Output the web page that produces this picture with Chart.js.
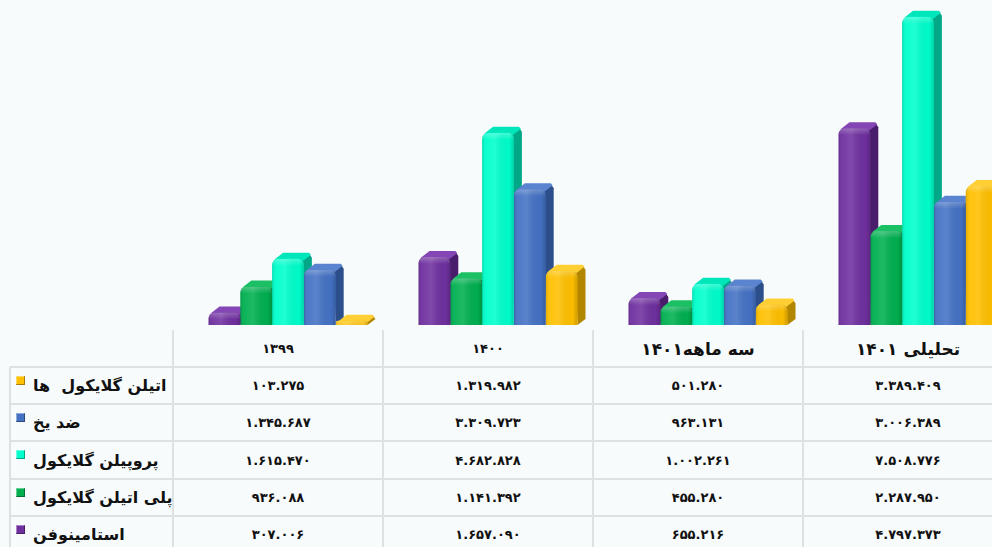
<!DOCTYPE html>
<html lang="fa">
<head>
<meta charset="UTF-8" />
<title>نمودار تولید</title>
<script src="https://cdn.jsdelivr.net/npm/chart.js"></script>
<style>
  html, body {
    margin: 0;
    padding: 0;
    width: 992px;
    height: 547px;
    overflow: hidden;
    background: #f8fbfc;
    font-family: "DejaVu Sans", sans-serif;
  }
  #wrap { position: relative; width: 992px; height: 547px; }
  #chartCanvas { position: absolute; left: 183px; top: 0; }
  .line { position: absolute; background: #dde1e3; }
  .cell {
    position: absolute;
    display: flex;
    align-items: center;
    justify-content: center;
    font-weight: bold;
    color: #111;
    white-space: pre;
  }
  .lbl { justify-content: flex-start; font-size: 16px; }
  .key {
    display: inline-block;
    width: 9px;
    height: 9px;
    margin-right: 8px;
    align-self: flex-start;
    margin-top: 9px;
    box-shadow: inset -1px -1px 0 rgba(0,0,0,0.35), inset 1px 1px 0 rgba(255,255,255,0.4);
  }
</style>
</head>
<body>
<div id="wrap">
  <canvas id="chartCanvas" width="840" height="325"></canvas>
</div>

<script>
// داده ها
const categories = ["۱۳۹۹", "۱۴۰۰", "سه ماهه۱۴۰۱", "تحلیلی ۱۴۰۱"];
const seriesNames = ["استامینوفن", "پلی اتیلن گلایکول", "پروپیلن گلایکول", "ضد یخ", "اتیلن گلایکول  ها"];
const acetaminophen = [307006, 1657090, 655216, 4797373];
const polyEthyleneGlycol = [936088, 1141392, 455280, 2287950];
const propyleneGlycol = [1615470, 4682828, 1002261, 7508776];
const antifreeze = [1345687, 3309723, 963131, 3006389];
const ethyleneGlycols = [103275, 1319982, 501280, 3389409];

const seriesValues = [acetaminophen, polyEthyleneGlycol, propyleneGlycol, antifreeze, ethyleneGlycols];
const colors = ["#7030a0", "#00b050", "#00ffcc", "#4472c4", "#ffc000"];
const sideColors = ["#4a1d6c", "#00783a", "#00a888", "#2c4f8c", "#b38600"];
const capColors = ["#8446b4", "#1cc064", "#00e6bb", "#5a84d0", "#ffcf33"];

function toFa(n) {
  const s = String(n).replace(/\B(?=(\d{3})+(?!\d))/g, ".");
  return s.replace(/\d/g, d => "۰۱۲۳۴۵۶۷۸۹"[d]);
}

// افکت سه بعدی
const DX = 8, DY = 6;
const threeD = {
  id: "threeD",
  beforeDatasetsDraw(chart) {
    const ctx = chart.ctx;
    chart.data.datasets.forEach((ds, di) => {
      chart.getDatasetMeta(di).data.forEach(bar => {
        const l = bar.x - bar.width / 2, r = bar.x + bar.width / 2;
        const t = bar.y, b = bar.base;
        ctx.save();
        ctx.fillStyle = sideColors[di];
        ctx.beginPath();
        ctx.moveTo(r - 2, t + 2);
        ctx.lineTo(r + DX - 2, t - DY + 2);
        ctx.lineTo(r + DX, Math.min(t - DY + 5, b - DY));
        ctx.lineTo(r + DX, b - DY);
        ctx.lineTo(r, b);
        ctx.closePath();
        ctx.fill();
        ctx.fillStyle = capColors[di];
        ctx.beginPath();
        ctx.moveTo(l + 2, t + 1);
        ctx.lineTo(l + DX + 3, t - DY);
        ctx.lineTo(r + DX - 3, t - DY);
        ctx.lineTo(r + DX - 1, t - DY + 2);
        ctx.lineTo(r - 2, t + 3);
        ctx.closePath();
        ctx.fill();
        ctx.restore();
      });
    });
  },
  afterDatasetsDraw(chart) {
    const ctx = chart.ctx;
    chart.data.datasets.forEach((ds, di) => {
      chart.getDatasetMeta(di).data.forEach(bar => {
        const l = bar.x - bar.width / 2, w = bar.width;
        const t = bar.y, h = bar.base - bar.y;
        if (h <= 0) return;
        const rad = Math.min(6, h / 2);
        ctx.save();
        ctx.beginPath();
        ctx.roundRect(l, t, w, h, [rad, rad, 0, 0]);
        ctx.clip();
        const g = ctx.createLinearGradient(l, 0, l + w, 0);
        g.addColorStop(0, "rgba(0,0,0,0.14)");
        g.addColorStop(0.12, "rgba(255,255,255,0.05)");
        g.addColorStop(0.4, "rgba(255,255,255,0.12)");
        g.addColorStop(0.85, "rgba(0,0,0,0.02)");
        g.addColorStop(1, "rgba(0,0,0,0.18)");
        ctx.fillStyle = g;
        ctx.fillRect(l, t, w, h);
        const gv = ctx.createLinearGradient(0, t, 0, t + 7);
        gv.addColorStop(0, "rgba(255,255,255,0.25)");
        gv.addColorStop(1, "rgba(255,255,255,0)");
        ctx.fillStyle = gv;
        ctx.fillRect(l, t, w, 7);
        ctx.restore();
      });
    });
  }
};

new Chart(document.getElementById("chartCanvas"), {
  type: "bar",
  data: {
    labels: categories,
    datasets: seriesNames.map((name, i) => ({
      label: name,
      data: seriesValues[i],
      backgroundColor: colors[i],
      borderWidth: 0,
      borderRadius: { topLeft: 6, topRight: 6 },
      borderSkipped: "bottom",
      barPercentage: 1.0,
      categoryPercentage: 0.757
    }))
  },
  options: {
    responsive: false,
    animation: false,
    layout: { padding: 0 },
    plugins: { legend: { display: false }, tooltip: { enabled: false } },
    scales: {
      x: { display: false },
      y: { display: false, min: 0, max: 7920000 }
    }
  },
  plugins: [threeD]
});

// جدول داده ها
const wrap = document.getElementById("wrap");
const colX = [10, 173, 383, 593, 803, 1013];
const rowY = [330, 367, 404, 441, 479, 516, 553];

function addLine(x, y, w, h) {
  const d = document.createElement("div");
  d.className = "line";
  Object.assign(d.style, { left: x + "px", top: y + "px", width: w + "px", height: h + "px" });
  wrap.appendChild(d);
}
function addCell(x, y, w, h, html, cls, size) {
  const d = document.createElement("div");
  d.className = "cell" + (cls ? " " + cls : "");
  Object.assign(d.style, { left: x + "px", top: y + "px", width: w + "px", height: h + "px" });
  if (size) d.style.fontSize = size + "px";
  d.innerHTML = html;
  wrap.appendChild(d);
}

for (let i = 1; i < rowY.length - 1; i++) addLine(10, rowY[i] - 1, 982, 2);
addLine(9, 367, 2, 180);
for (let c = 1; c < colX.length - 1; c++) addLine(colX[c] - 1, 330, 2, 217);

const headSizes = [13, 13, 17, 17];
categories.forEach((c, ci) => {
  addCell(colX[ci + 1], rowY[0], colX[ci + 2] - colX[ci + 1], rowY[1] - rowY[0], c, "", headSizes[ci]);
});

const order = [4, 3, 2, 1, 0];
order.forEach((si, r) => {
  const y = rowY[r + 1], h = rowY[r + 2] - rowY[r + 1];
  addCell(colX[0] + 6, y, colX[1] - colX[0] - 6, h,
    `<span class="key" style="background:${colors[si]}"></span><span>${seriesNames[si]}</span>`, "lbl");
  seriesValues[si].forEach((v, ci) => {
    addCell(colX[ci + 1], y, colX[ci + 2] - colX[ci + 1], h, toFa(v), "", 13);
  });
});
</script>
</body>
</html>
